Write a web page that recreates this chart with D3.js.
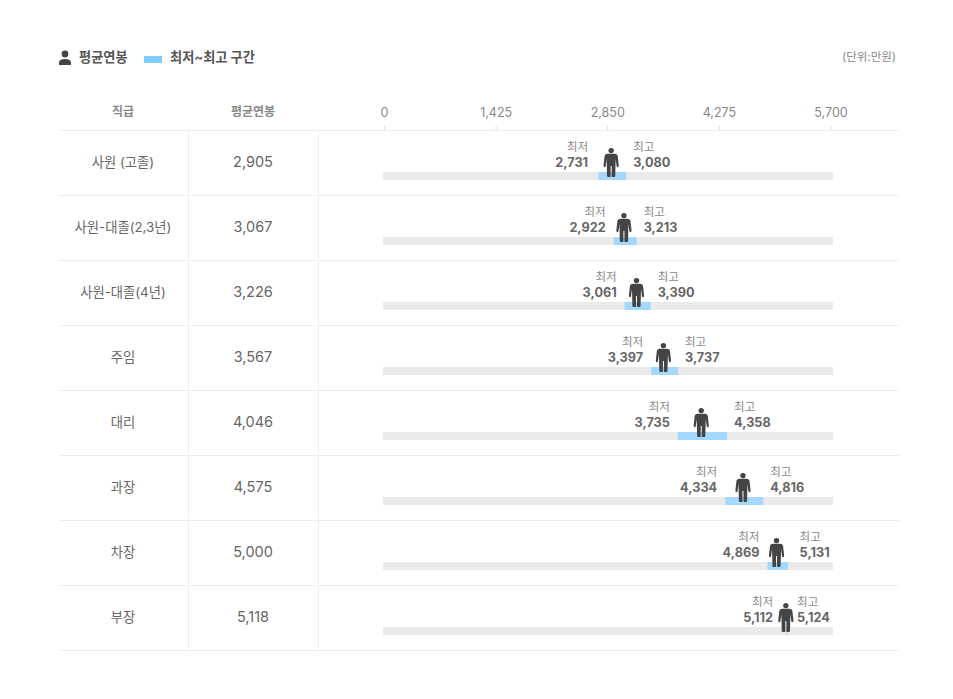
<!DOCTYPE html>
<html lang="ko">
<head>
<meta charset="utf-8">
<script src="https://cdn.jsdelivr.net/npm/d3@7"></script>
<style>
    html, body { margin: 0; background: #fff; }
    svg { display: block; font-family: Inter, "Noto Sans CJK KR", sans-serif; }
</style>
</head>
<body>
<svg id="chart" width="953" height="699"></svg>
<script>
const grades = ['사원 (고졸)', '사원-대졸(2,3년)', '사원-대졸(4년)', '주임', '대리', '과장', '차장', '부장'];
const avgPay = [2905, 3067, 3226, 3567, 4046, 4575, 5000, 5118];
const minPay = [2731, 2922, 3061, 3397, 3735, 4334, 4869, 5112];
const maxPay = [3080, 3213, 3390, 3737, 4358, 4816, 5131, 5124];
const axisTicks = [0, 1425, 2850, 4275, 5700];

const fmt = d3.format(',');
const svg = d3.select('#chart');

const personPath = 'M-3.5,5.8 H3.5 Q6.3,5.8 6.6,8.5 L7.6,17.5 Q7.7,19.3 6.5,19.3 Q5.6,19.3 5.4,17.8 L4.5,11 L4.1,28 Q4.1,29 3,29 H1 Q.5,29 .5,28 V18 H-.5 V28 Q-.5,29 -1,29 H-3 Q-4.1,29 -4.1,28 L-4.5,11 L-5.4,17.8 Q-5.6,19.3 -6.5,19.3 Q-7.7,19.3 -7.6,17.5 L-6.6,8.5 Q-6.3,5.8 -3.5,5.8 Z';

// bars and the axis don't quite share a width in the original
let x = d3.scaleLinear().domain([0, 5700]).range([383, 833]);
let xAxisScale = d3.scaleLinear().domain([0, 5700]).range([384, 830.5]);
let y = d3.scaleBand().domain(grades).range([130, 650]);

// legend
svg.append('circle').attr('cx', 65).attr('cy', 54).attr('r', 3.4).attr('fill', '#444');
svg.append('path')
    .attr('d', 'M59,65 V62.5 Q59,59 65,59 Q71,59 71,62.5 V65 Z')
    .attr('fill', '#444');
svg.append('text').attr('x', 79).attr('y', 62)
    .attr('font-size', 13.2).attr('font-weight', 700).attr('fill', '#555')
    .text('평균연봉');
svg.append('rect').attr('x', 144).attr('y', 56).attr('width', 18).attr('height', 7).attr('fill', '#7fcdff');
svg.append('text').attr('x', 170).attr('y', 62)
    .attr('font-size', 13.2).attr('font-weight', 700).attr('fill', '#555')
    .text('최저~최고 구간');
svg.append('text').attr('x', 896).attr('y', 61).attr('text-anchor', 'end')
    .attr('font-size', 11.5).attr('fill', '#888')
    .text('(단위:만원)');

// header
svg.append('text').attr('x', 123).attr('y', 115.5).attr('text-anchor', 'middle')
    .attr('font-size', 12).attr('font-weight', 700).attr('fill', '#888').text('직급');
svg.append('text').attr('x', 253).attr('y', 115.5).attr('text-anchor', 'middle')
    .attr('font-size', 12).attr('font-weight', 700).attr('fill', '#888').text('평균연봉');

let axis = svg.append('g')
    .attr('transform', 'translate(0,130)')
    .call(d3.axisTop(xAxisScale).tickValues(axisTicks).tickSize(4).tickPadding(9).tickFormat(fmt));
axis.select('.domain').remove();
axis.selectAll('line').attr('stroke', '#ddd');
axis.selectAll('text').attr('font-size', 12.5).attr('font-family', 'Inter').attr('fill', '#888');

// row rules
svg.selectAll('line.rule')
    .data([130].concat(grades.map(g => y(g) + y.bandwidth())))
    .join('line')
    .attr('class', 'rule')
    .attr('x1', 59).attr('x2', 899)
    .attr('y1', d => d + 0.5).attr('y2', d => d + 0.5)
    .attr('stroke', '#eee');

let rows = svg.selectAll('g.row')
    .data(grades)
    .join('g')
    .attr('class', 'row')
    .attr('transform', g => `translate(0,${y(g)})`);

// column separators
[188.5, 318.5].forEach(cx => {
    rows.append('line')
        .attr('x1', cx).attr('x2', cx)
        .attr('y1', 1).attr('y2', 64)
        .attr('stroke', '#eee');
});

rows.append('text')
    .attr('x', 123).attr('y', 36.5).attr('text-anchor', 'middle')
    .attr('font-size', 13.3).attr('fill', '#666')
    .text(g => g);

rows.append('text')
    .attr('x', 253).attr('y', 37).attr('text-anchor', 'middle')
    .attr('font-size', 14.5).attr('fill', '#666')
    .text((g, i) => fmt(avgPay[i]));

rows.append('rect')
    .attr('x', x(0)).attr('y', 42)
    .attr('width', x(5700) - x(0)).attr('height', 8)
    .attr('fill', '#eaeaea');

rows.append('rect')
    .attr('x', (g, i) => x(minPay[i])).attr('y', 42)
    .attr('width', (g, i) => x(maxPay[i]) - x(minPay[i])).attr('height', 8)
    .attr('fill', '#a5d8ff');

let person = rows.append('g')
    .attr('transform', (g, i) => `translate(${x(avgPay[i]) - 1.2},18)`)
    .attr('fill', '#444');
person.append('circle').attr('cx', 0).attr('cy', 2.6).attr('r', 2.7);
person.append('path').attr('d', personPath);

// labels stay clear of the band edge and of the icon,
// two rows sit a bit further out in the original
function lowX(g, i) {
    let nudge = g === '사원 (고졸)' ? 2.5 : 0;
    return Math.min(x(minPay[i]) - 8, x(avgPay[i]) - 14) - nudge;
}
function highX(g, i) {
    let nudge = g === '차장' ? 4.5 : 0;
    return Math.max(x(maxPay[i]) + 7, x(avgPay[i]) + 10) + nudge;
}

rows.append('text')
    .attr('x', lowX).attr('y', 21).attr('text-anchor', 'end')
    .attr('font-size', 11.5).attr('fill', '#888').text('최저');
rows.append('text')
    .attr('x', lowX).attr('y', 37).attr('text-anchor', 'end')
    .attr('font-size', 12.7).attr('font-weight', 700).attr('fill', '#666')
    .text((g, i) => fmt(minPay[i]));
rows.append('text')
    .attr('x', highX).attr('y', 21)
    .attr('font-size', 11.5).attr('fill', '#888').text('최고');
rows.append('text')
    .attr('x', highX).attr('y', 37)
    .attr('font-size', 12.7).attr('font-weight', 700).attr('fill', '#666')
    .text((g, i) => fmt(maxPay[i]));
</script>
</body>
</html>
